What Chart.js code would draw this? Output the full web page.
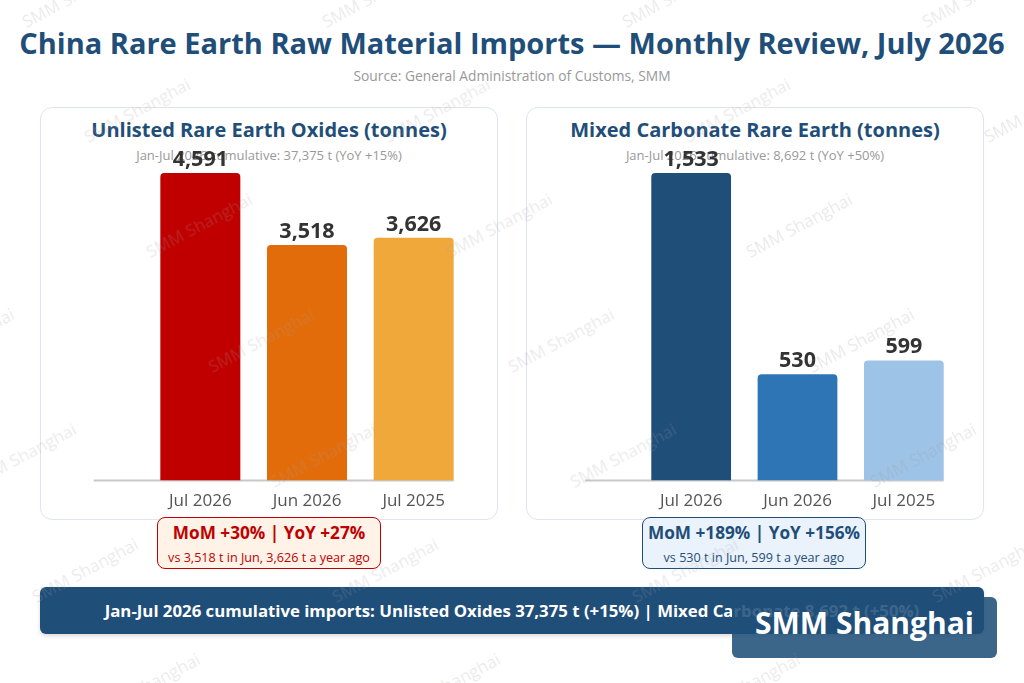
<!DOCTYPE html>
<html lang="en">
<head>
    <meta charset="UTF-8">
    <title>China Rare Earth Raw Material Imports</title>
    <script src="https://cdn.jsdelivr.net/npm/chart.js"></script>
    <style>
        body { margin: 0; width: 1024px; height: 683px; position: relative; overflow: hidden; background: #fff; font-family: "Open Sans", "Noto Sans", sans-serif; }
        .title { position: absolute; left: 0; top: 22px; width: 1024px; text-align: center; font-size: 29px; font-weight: 700; color: #1f4e79; line-height: 42px; }
        .source { position: absolute; left: 0; top: 66px; width: 1024px; text-align: center; font-size: 13.8px; color: #999; line-height: 20px; }
        .card { position: absolute; top: 107px; width: 458px; height: 413px; border: 1.5px solid #dfe5ee; border-radius: 12px; box-sizing: border-box; }
        .card h3 { position: absolute; left: 0; top: 8px; width: 100%; margin: 0; text-align: center; font-size: 20px; font-weight: 700; color: #1f4e79; line-height: 28px; }
        .card p { position: absolute; left: 0; top: 38px; width: 100%; margin: 0; text-align: center; font-size: 13px; color: #999; line-height: 19px; }
        .card canvas { position: absolute; left: -1.5px; top: -1.5px; }
        .badge { position: absolute; top: 517px; width: 224px; height: 52px; border: 1.5px solid; border-radius: 8px; box-sizing: border-box; text-align: center; white-space: nowrap; }
        .badge b { display: block; font-size: 17.2px; margin-top: 3px; line-height: 24px; }
        .badge span { display: block; font-size: 12.6px; margin-top: 4px; line-height: 17px; }
        .banner { position: absolute; left: 40px; top: 587px; width: 944px; height: 47px; background: #1f4e79; border-radius: 6px; color: #fff; font-weight: 700; font-size: 16.8px; line-height: 47px; text-align: center; white-space: nowrap; box-shadow: 0 2px 4px rgba(0,0,0,0.15); }
        .brand { position: absolute; left: 732px; top: 597px; width: 265px; height: 61px; background: rgba(31,78,121,0.87); border-radius: 6px; color: #fff; font-weight: 700; font-size: 30px; line-height: 52px; text-align: center; }
        .wm { position: absolute; font-size: 17px; color: rgba(160,160,160,0.22); transform: translate(-50%, -50%) rotate(-28deg); white-space: nowrap; pointer-events: none; z-index: 10; }
    </style>
</head>
<body>
    <div class="title">China Rare Earth Raw Material Imports — Monthly Review, July 2026</div>
    <div class="source">Source: General Administration of Customs, SMM</div>

    <div class="card" style="left:40px">
        <h3>Unlisted Rare Earth Oxides (tonnes)</h3>
        <p>Jan-Jul 2026 cumulative: 37,375 t (YoY +15%)</p>
        <canvas id="oxideChart"></canvas>
    </div>
    <div class="card" style="left:526px">
        <h3>Mixed Carbonate Rare Earth (tonnes)</h3>
        <p>Jan-Jul 2026 cumulative: 8,692 t (YoY +50%)</p>
        <canvas id="carbonateChart"></canvas>
    </div>

    <div class="badge" style="left:157px; border-color:#c00000; background:#fff3e8; color:#c00000">
        <b>MoM +30% | YoY +27%</b>
        <span>vs 3,518 t in Jun, 3,626 t a year ago</span>
    </div>
    <div class="badge" style="left:642px; border-color:#1f4e79; background:#eaf2fb; color:#1f4e79">
        <b>MoM +189% | YoY +156%</b>
        <span>vs 530 t in Jun, 599 t a year ago</span>
    </div>

    <div class="banner">Jan-Jul 2026 cumulative imports: Unlisted Oxides 37,375 t (+15%) | Mixed Carbonate 8,692 t (+50%)</div>
    <div class="brand">SMM Shanghai</div>

    <script>
    // data
    const categories = ['Jul 2026', 'Jun 2026', 'Jul 2025'];
    const oxideValues = [4591, 3518, 3626];
    const carbonateValues = [1533, 530, 599];
    const oxideColors = ['#c00000', '#e36c0a', '#f0a83b'];
    const carbonateColors = ['#1f4e79', '#2e75b6', '#9dc3e6'];

    // baseline runs from half a category left of the plot to the last bar's edge
    const baseLine = {
        id: 'baseLine',
        beforeDatasetsDraw(chart) {
            const x = chart.scales.x;
            const bars = chart.getDatasetMeta(0).data;
            const last = bars[bars.length - 1];
            const step = x.getPixelForValue(1) - x.getPixelForValue(0);
            const ctx = chart.ctx;
            ctx.save();
            ctx.strokeStyle = '#c8c8c8';
            ctx.lineWidth = 2;
            ctx.beginPath();
            ctx.moveTo(x.left - step / 2, x.top);
            ctx.lineTo(last.x + last.width / 2, x.top);
            ctx.stroke();
            ctx.restore();
        }
    };

    // value labels above bars
    const valueLabels = {
        id: 'valueLabels',
        afterDatasetsDraw(chart) {
            const ctx = chart.ctx;
            const meta = chart.getDatasetMeta(0);
            ctx.save();
            ctx.font = '700 21.5px "Open Sans", sans-serif';
            ctx.fillStyle = '#333';
            ctx.textAlign = 'center';
            ctx.textBaseline = 'alphabetic';
            meta.data.forEach((bar, i) => {
                ctx.fillText(chart.data.datasets[0].data[i].toLocaleString('en-US'), bar.x, bar.y - 7);
            });
            ctx.restore();
        }
    };

    function makeChart(id, values, colors, padLeft, padRight) {
        const canvas = document.getElementById(id);
        canvas.width = 458;
        canvas.height = 424;
        return new Chart(canvas, {
            type: 'bar',
            data: {
                labels: categories,
                datasets: [{
                    data: values,
                    backgroundColor: colors,
                    borderRadius: { topLeft: 4, topRight: 4 },
                    borderSkipped: 'bottom',
                    barPercentage: 0.75,
                    categoryPercentage: 1
                }]
            },
            options: {
                responsive: false,
                animation: false,
                layout: { padding: { top: 66, bottom: 10, left: padLeft, right: padRight } },
                plugins: { legend: { display: false }, tooltip: { enabled: false } },
                scales: {
                    x: {
                        grid: { display: false, drawTicks: false },
                        border: { display: false, width: 2 },
                        ticks: { color: '#555', padding: 10, font: { family: 'Open Sans', size: 17 } }
                    },
                    y: { display: false, min: 0, max: Math.max(...values) }
                }
            },
            plugins: [baseLine, valueLabels]
        });
    }

    makeChart('oxideChart', oxideValues, oxideColors, 107, 31);
    makeChart('carbonateChart', carbonateValues, carbonateColors, 112, 27);

    // watermark
    for (let row = 0; row < 7; row++) {
        for (let k = -1; k < 4; k++) {
            const el = document.createElement('div');
            el.className = 'wm';
            el.textContent = 'SMM Shanghai';
            el.style.left = (75 + 62 * row + 300 * k) + 'px';
            el.style.top = (-5 + 115 * row) + 'px';
            document.body.appendChild(el);
        }
    }
    </script>
</body>
</html>
